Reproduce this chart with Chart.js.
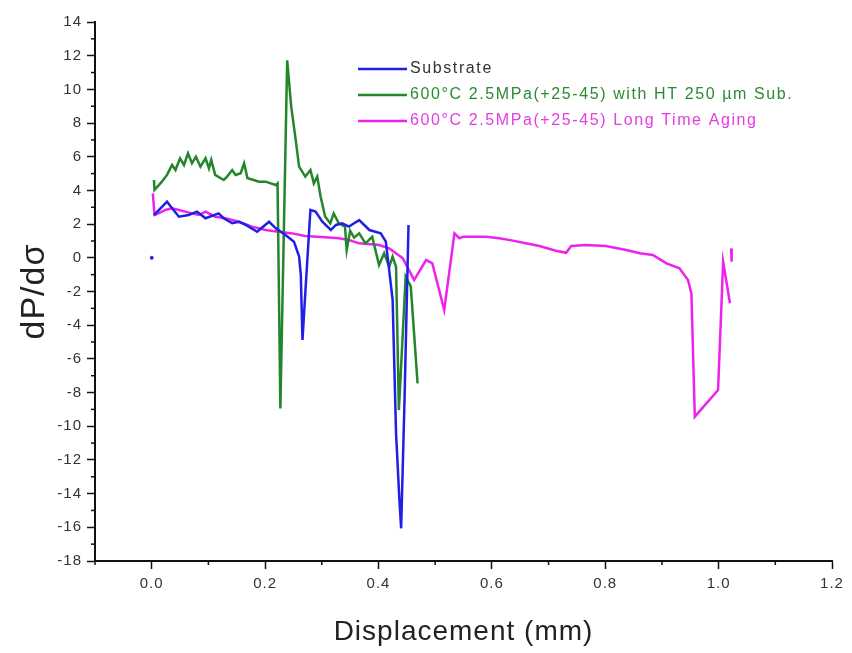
<!DOCTYPE html>
<html>
<head>
<meta charset="utf-8">
<script src="https://cdn.jsdelivr.net/npm/chart.js@4.4.1/dist/chart.umd.min.js"></script>
<style>
  body { margin: 0; background: #fff; }
  #chart { display: block; }
</style>
</head>
<body>
<canvas id="chart" width="852" height="653"></canvas>
<script>
// tick labels
const xTicks = [0, 0.2, 0.4, 0.6, 0.8, 1.0, 1.2];
const yTicks = [-18, -16, -14, -12, -10, -8, -6, -4, -2, 0, 2, 4, 6, 8, 10, 12, 14];

// Substrate (null = break in the line)
const subX = [0.000, 0.002, 0.004, 0.027, 0.036, 0.048, 0.065, 0.080, 0.095, 0.118, 0.127, 0.142, 0.154, 0.166, 0.186, 0.207, 0.219, 0.236, 0.251, 0.260, 0.263, 0.266, 0.272, 0.280, 0.289, 0.301, 0.316, 0.325, 0.336, 0.348, 0.357, 0.366, 0.384, 0.404, 0.413, 0.425, 0.431, 0.437, 0.440, 0.446, 0.453];
const subY = [0.00, null, 2.54, 3.33, 2.94, 2.44, 2.54, 2.74, 2.35, 2.64, 2.35, 2.05, 2.14, 1.95, 1.55, 2.14, 1.75, 1.35, 0.96, 0.07, -1.0, -4.88, -1.5, 2.84, 2.74, 2.14, 1.65, 1.95, 2.05, 1.85, 2.05, 2.24, 1.65, 1.45, 0.96, -2.5, -10.4, -14.4, -16.06, -8.4, 1.95];

// 600°C 2.5MPa(+25-45) with HT 250 µm Sub.
const htX = [0.004, 0.005, 0.018, 0.027, 0.036, 0.042, 0.050, 0.057, 0.064, 0.071, 0.078, 0.086, 0.095, 0.101, 0.105, 0.112, 0.127, 0.133, 0.142, 0.148, 0.157, 0.163, 0.169, 0.180, 0.189, 0.201, 0.210, 0.219, 0.222, 0.227, 0.239, 0.246, 0.254, 0.260, 0.271, 0.280, 0.286, 0.292, 0.298, 0.306, 0.315, 0.321, 0.330, 0.341, 0.344, 0.350, 0.357, 0.366, 0.377, 0.389, 0.401, 0.410, 0.419, 0.425, 0.431, 0.436, 0.448, 0.457, 0.469];
const htY = [4.62, 4.03, 4.52, 4.92, 5.51, 5.21, 5.91, 5.51, 6.20, 5.61, 6.00, 5.41, 5.91, 5.31, 5.81, 4.92, 4.62, 4.82, 5.21, 4.92, 5.02, 5.61, 4.72, 4.62, 4.52, 4.52, 4.42, 4.32, 4.42, -8.94, 11.73, 9.0, 7.0, 5.41, 4.82, 5.21, 4.42, 4.82, 3.63, 2.44, 2.05, 2.64, 2.05, 1.85, 0.46, 1.60, 1.20, 1.45, 0.86, 1.25, -0.43, 0.27, -0.53, 0.07, -0.53, -9.04, -1.12, -1.70, -7.45];

// 600°C 2.5MPa(+25-45) Long Time Aging
const agX = [0.002, 0.005, 0.012, 0.024, 0.036, 0.048, 0.059, 0.071, 0.083, 0.095, 0.112, 0.130, 0.154, 0.177, 0.201, 0.224, 0.248, 0.271, 0.306, 0.330, 0.348, 0.366, 0.401, 0.419, 0.443, 0.463, 0.484, 0.495, 0.516, 0.534, 0.543, 0.549, 0.566, 0.590, 0.613, 0.637, 0.660, 0.684, 0.713, 0.731, 0.740, 0.766, 0.801, 0.837, 0.861, 0.884, 0.908, 0.931, 0.946, 0.952, 0.958, 0.999, 1.008, 1.020, 1.021, 1.022, 1.023];
const agY = [3.83, 2.54, 2.64, 2.84, 2.94, 2.84, 2.74, 2.64, 2.54, 2.74, 2.44, 2.35, 2.14, 1.85, 1.65, 1.55, 1.45, 1.29, 1.22, 1.16, 1.06, 0.86, 0.76, 0.56, -0.03, -1.32, -0.13, -0.33, -3.10, 1.45, 1.16, 1.25, 1.25, 1.25, 1.16, 1.02, 0.86, 0.70, 0.42, 0.30, 0.70, 0.76, 0.70, 0.46, 0.27, 0.17, -0.33, -0.62, -1.32, -2.11, -9.43, -7.85, -0.23, -2.70, null, 0.56, -0.23];

const seriesNames = ['Substrate', '600°C 2.5MPa(+25-45) with HT 250 µm Sub.', '600°C 2.5MPa(+25-45) Long Time Aging'];
const lineColors = ['#1f1fe6', '#23862a', '#ee22ee'];
const textColors = ['#333333', '#2c8a32', '#e43ee0'];

function pts(xs, ys) {
    return xs.map((x, i) => ({ x: x, y: ys[i] }));
}

const FONT = '"Liberation Sans", Arial, sans-serif';

// minor ticks + legend drawn on top
const extras = {
    id: 'extras',
    beforeDraw(chart) {
        chart.ctx.letterSpacing = '1px';
    },
    afterDraw(chart) {
        const ctx = chart.ctx;
        const xs = chart.scales.x, ys = chart.scales.y;
        const area = chart.chartArea;
        ctx.save();
        ctx.strokeStyle = '#111';
        ctx.lineWidth = 1.5;
        for (let v = -17; v <= 13; v += 2) {
            const p = ys.getPixelForValue(v);
            ctx.beginPath(); ctx.moveTo(area.left - 4, p); ctx.lineTo(area.left, p); ctx.stroke();
        }
        for (let k = -1; k <= 11; k += 2) {
            const p = xs.getPixelForValue(k / 10);
            ctx.beginPath(); ctx.moveTo(p, area.bottom); ctx.lineTo(p, area.bottom + 4); ctx.stroke();
        }
        // legend
        ctx.font = '16px ' + FONT;
        ctx.letterSpacing = '1.6px';
        ctx.textBaseline = 'middle';
        seriesNames.forEach((name, i) => {
            const y = 69 + i * 26;
            ctx.strokeStyle = lineColors[i];
            ctx.lineWidth = 2.5;
            ctx.beginPath(); ctx.moveTo(358, y); ctx.lineTo(407, y); ctx.stroke();
            ctx.fillStyle = textColors[i];
            ctx.fillText(name, 410, y);
        });
        ctx.restore();
    }
};

const ctx = document.getElementById('chart').getContext('2d');
ctx.letterSpacing = '1px';
const chart = new Chart(ctx, {
    type: 'line',
    data: {
        datasets: [
            { label: seriesNames[0], data: pts(subX, subY), borderColor: lineColors[0], backgroundColor: lineColors[0],
              pointRadius: subX.map((v, i) => i === 0 ? 1.5 : 0) },
            { label: seriesNames[1], data: pts(htX, htY), borderColor: lineColors[1], pointRadius: 0 },
            { label: seriesNames[2], data: pts(agX, agY), borderColor: lineColors[2], pointRadius: 0 }
        ]
    },
    options: {
        responsive: false,
        animation: false,
        spanGaps: false,
        elements: { line: { borderWidth: 2.5, tension: 0 } },
        layout: { padding: { top: 22, right: 20, left: 0, bottom: 0 } },
        plugins: { legend: { display: false }, tooltip: { enabled: false } },
        scales: {
            x: {
                type: 'linear', min: -0.1, max: 1.2,
                afterBuildTicks: s => { s.ticks = xTicks.map(v => ({ value: v })); },
                afterFit: s => { s.height = 92; },
                border: { color: '#111', width: 2 },
                grid: { drawOnChartArea: false, tickLength: 8, tickColor: '#111', tickWidth: 1.5 },
                ticks: { color: '#333', font: { family: FONT, size: 15 }, padding: 6, callback: v => v.toFixed(1), maxRotation: 0 },
                title: { display: true, text: 'Displacement (mm)', color: '#222', font: { family: FONT, size: 28 }, padding: { top: 8 } }
            },
            y: {
                type: 'linear', min: -18, max: 14,
                afterBuildTicks: s => { s.ticks = yTicks.map(v => ({ value: v })); },
                afterFit: s => { s.width = 95; },
                border: { color: '#111', width: 2 },
                grid: { drawOnChartArea: false, tickLength: 8, tickColor: '#111', tickWidth: 1.5 },
                ticks: { color: '#333', font: { family: FONT, size: 15 }, padding: 5 },
                title: { display: true, text: 'dP/dσ', color: '#222', font: { family: FONT, size: 34 }, padding: { top: 14, bottom: 4 } }
            }
        }
    },
    plugins: [extras]
});
</script>
</body>
</html>
